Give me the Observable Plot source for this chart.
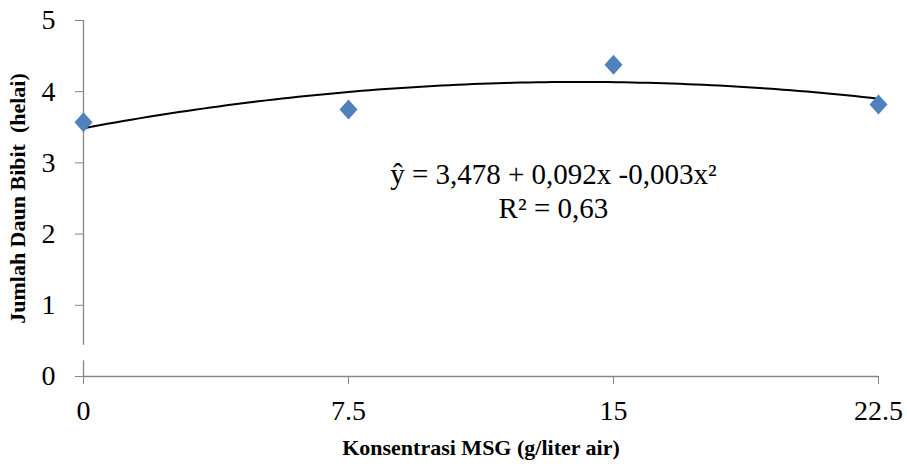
<!DOCTYPE html>
<html><head><meta charset="utf-8">
<script src="https://cdn.jsdelivr.net/npm/d3@7"></script>
<script src="https://cdn.jsdelivr.net/npm/@observablehq/plot@0.6"></script>
<style>body{margin:0;background:#fff}</style>
</head><body><div id="chart"></div>
<script>
const concentrations = [0, 7.5, 15, 22.5];
const leafCounts = [3.57, 3.75, 4.38, 3.82];
const xTicks = [0, 7.5, 15, 22.5];
const xTickLabels = ["0", "7.5", "15", "22.5"];
const yTicks = [0, 1, 2, 3, 4, 5];
const xTitle = "Konsentrasi MSG (g/liter air)";
const yTitle = "Jumlah Daun Bibit \u00a0(helai)";
const equationText = "ŷ = 3,478 + 0,092x -0,003x²";
const r2Text = "R² = 0,63";

const points = concentrations.map((x, i) => ({x, y: leafCounts[i]}));

// least-squares quadratic fit from the data
function quadFit(xs, ys) {
  const S = k => d3.sum(xs, x => x ** k);
  const T = k => d3.sum(xs, (x, i) => ys[i] * x ** k);
  const A = [[S(0), S(1), S(2)], [S(1), S(2), S(3)], [S(2), S(3), S(4)]];
  const b = [T(0), T(1), T(2)];
  const det = m => m[0][0]*(m[1][1]*m[2][2]-m[1][2]*m[2][1]) - m[0][1]*(m[1][0]*m[2][2]-m[1][2]*m[2][0]) + m[0][2]*(m[1][0]*m[2][1]-m[1][1]*m[2][0]);
  const D = det(A);
  return [0, 1, 2].map(c => det(A.map((row, r) => row.map((v, j) => j === c ? b[r] : v))) / D);
}
const [a0, a1, a2] = quadFit(concentrations, leafCounts);
const xMin = d3.min(concentrations), xMax = d3.max(concentrations);
const trend = d3.range(0, 101).map(i => {
  const x = xMin + (xMax - xMin) * i / 100;
  return {x, y: a0 + a1 * x + a2 * x * x};
});

const diamond = {
  draw(ctx, size) {
    const r = Math.sqrt(size / Math.PI);
    ctx.moveTo(0, -r); ctx.lineTo(r * 0.9, 0); ctx.lineTo(0, r); ctx.lineTo(-r * 0.9, 0); ctx.closePath();
  }
};

const grey = "#868686";
const chart = Plot.plot({
  width: 907, height: 468,
  marginLeft: 83, marginRight: 29, marginTop: 20, marginBottom: 92,
  style: {fontFamily: "'Liberation Serif', 'Times New Roman', serif", background: "#fff", color: "#000"},
  x: {domain: [0, 22.5]},
  y: {domain: [0, 5]},
  marks: [
    Plot.ruleX([0], {y1: 0.44, y2: 5, stroke: grey, strokeWidth: 1.3}),
    Plot.ruleX([0], {y1: 0, y2: 0.22, stroke: grey, strokeWidth: 1.3}),
    Plot.ruleY([0], {stroke: grey, strokeWidth: 1.3}),
    Plot.axisY({ticks: yTicks, tickSize: 8, tickPadding: 20, fontSize: 28, stroke: grey, fill: "#000", label: null, tickFormat: d => String(d)}),
    Plot.axisX({ticks: xTicks, tickSize: 8, tickPadding: 16, fontSize: 28, stroke: grey, fill: "#000", label: null, tickFormat: d => xTickLabels[xTicks.indexOf(d)]}),
    Plot.line(trend, {x: "x", y: "y", stroke: "#000", strokeWidth: 2}),
    Plot.dot(points, {x: "x", y: "y", symbol: diamond, r: 10, fill: "#4F81BD", stroke: "none"}),
    Plot.text([equationText], {x: 13.3, y: 2.84, text: d => d, fontSize: 29, fill: "#000"}),
    Plot.text([r2Text], {x: 13.3, y: 2.36, text: d => d, fontSize: 29, fill: "#000"}),
    Plot.text([xTitle], {frameAnchor: "bottom", dy: 71, textAnchor: "middle", lineAnchor: "middle", text: d => d, fontSize: 22, fontWeight: "bold", fill: "#000"}),
    Plot.text([yTitle], {frameAnchor: "left", dx: -66, textAnchor: "middle", lineAnchor: "middle", rotate: -90, text: d => d, fontSize: 22, fontWeight: "bold", fill: "#000"})
  ]
});
document.getElementById("chart").appendChild(chart);
</script>
</body></html>
